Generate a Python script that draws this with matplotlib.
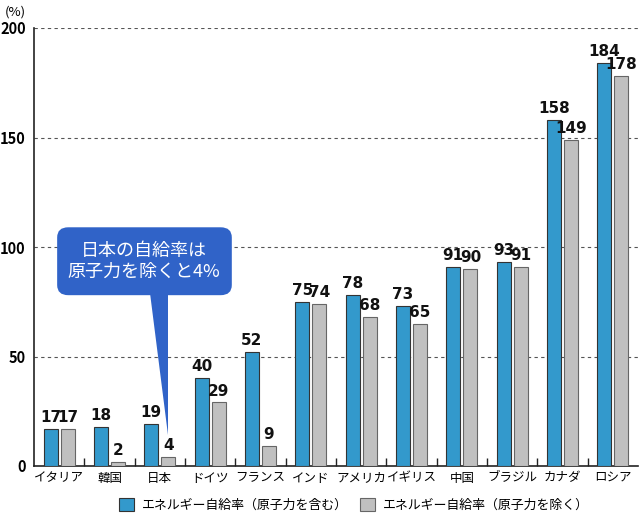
import matplotlib
matplotlib.use("Agg")
import matplotlib.pyplot as plt
import numpy as np
from matplotlib.patches import FancyBboxPatch, Polygon

plt.rcParams["font.family"] = ["Noto Sans CJK JP", "DejaVu Sans"]

countries = ["イタリア", "韓国", "日本", "ドイツ", "フランス", "インド",
             "アメリカ", "イギリス", "中国", "ブラジル", "カナダ", "ロシア"]
with_nuclear = [17, 18, 19, 40, 52, 75, 78, 73, 91, 93, 158, 184]
without_nuclear = [17, 2, 4, 29, 9, 74, 68, 65, 90, 91, 149, 178]
series_names = ["エネルギー自給率（原子力を含む）", "エネルギー自給率（原子力を除く）"]
yticks = [0, 50, 100, 150, 200]

blue = "#3399cc"
gray = "#c0c0c0"

fig = plt.figure(figsize=(6.4, 5.16), dpi=100)
ax = fig.add_axes([34 / 640, 50 / 516, 604 / 640, 438 / 516])

x = np.arange(len(countries))
w = 0.28
off = 0.17
b1 = ax.bar(x - off, with_nuclear, w, color=blue, edgecolor="#333333", linewidth=0.8,
            label=series_names[0], zorder=3)
b2 = ax.bar(x + off, without_nuclear, w, color=gray, edgecolor="#666666", linewidth=0.8,
            label=series_names[1], zorder=3)

num_font = dict(family="DejaVu Sans", fontsize=11, fontweight="bold", color="#111111")
for xi, v in zip(x - off, with_nuclear):
    ax.text(xi, v + 1.8, str(v), ha="center", va="bottom", zorder=5, **num_font)
for xi, v in zip(x + off, without_nuclear):
    ax.text(xi, v + 1.8, str(v), ha="center", va="bottom", zorder=5, **num_font)

ax.set_xlim(-0.5, len(countries) - 0.5)
ax.set_ylim(0, 200)
ax.set_yticks(yticks)
ax.set_yticklabels([str(t) for t in yticks], fontweight="bold", fontsize=10.5)
for t in yticks[1:]:
    ax.axhline(t, color="#555555", linestyle=(0, (3, 3)), linewidth=0.8, zorder=1)

ax.set_xticks(x)
ax.set_xticklabels(countries, fontsize=9)
ax.tick_params(axis="x", length=0, pad=4)
ax.set_xticks(np.arange(0.5, len(countries) - 0.5, 1.0), minor=True)
ax.tick_params(axis="x", which="minor", direction="in", length=6, width=1, color="#222222")
ax.tick_params(axis="y", length=0, pad=6)

for s in ["top", "right"]:
    ax.spines[s].set_visible(False)
ax.spines["left"].set_color("#222222")
ax.spines["bottom"].set_color("#222222")
ax.spines["left"].set_linewidth(1.2)
ax.spines["bottom"].set_linewidth(1.2)

fig.text(5 / 640, 1 - 12 / 516, "(%)", fontsize=9.5, va="center", ha="left")

# callout
callout_color = "#3063c8"
box = FancyBboxPatch((-0.04, 78), 3.47, 31,
                     boxstyle="round,pad=0,rounding_size=0.22",
                     mutation_aspect=21, facecolor=callout_color,
                     edgecolor="none", zorder=6)
ax.add_patch(box)
ax.add_patch(Polygon([[1.80, 79], [2.16, 79], [2.16, 14]], closed=True,
                     facecolor=callout_color, edgecolor="none", zorder=6))
ax.text(1.69, 93.5, "日本の自給率は\n原子力を除くと4%", ha="center", va="center",
        color="white", fontsize=13, linespacing=1.25, zorder=7)

fig.legend(handles=[b1, b2], labels=series_names, loc="center",
           bbox_to_anchor=(354 / 640, 1 - 505 / 516), ncol=2, frameon=False,
           fontsize=9.3, handlelength=1.2, handleheight=1.2, columnspacing=0.9,
           handletextpad=0.6)

fig.savefig("out.png", dpi=100)
